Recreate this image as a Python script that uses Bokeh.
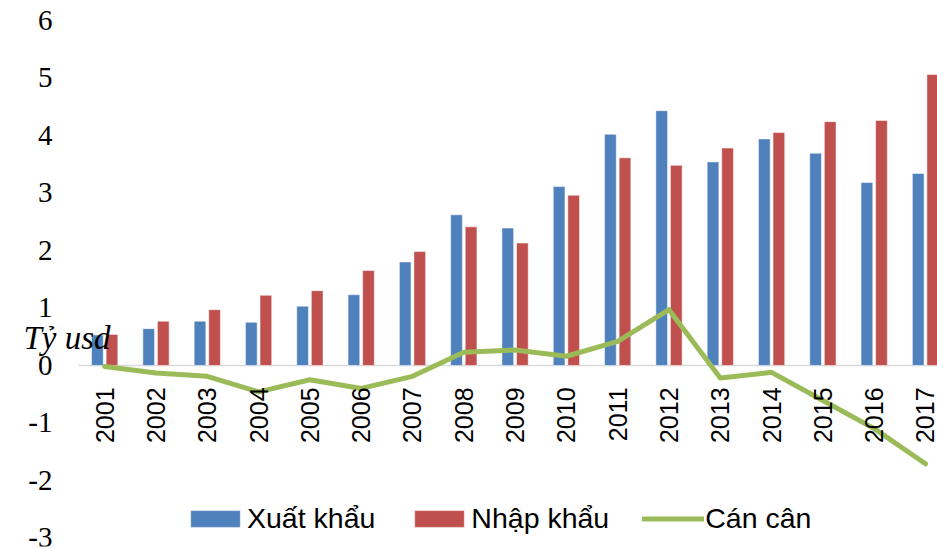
import math
from bokeh.plotting import figure
from bokeh.models import ColumnDataSource, Label, Legend, LegendItem, Range1d
from bokeh.transform import dodge
from bokeh.core.properties import value
from bokeh.embed import file_html
from bokeh.resources import INLINE

# ---- data (billion USD) ----
years = list(range(2001, 2018))
year_labels = [str(y) for y in years]
xuat_khau = [0.53, 0.64, 0.77, 0.75, 1.03, 1.23, 1.80, 2.62, 2.39, 3.11, 4.02, 4.43, 3.54, 3.94, 3.69, 3.18, 3.34]
nhap_khau = [0.54, 0.77, 0.97, 1.22, 1.30, 1.65, 1.98, 2.41, 2.13, 2.96, 3.61, 3.48, 3.78, 4.05, 4.24, 4.26, 5.06]
can_can = [-0.02, -0.13, -0.19, -0.46, -0.25, -0.40, -0.19, 0.23, 0.27, 0.16, 0.42, 0.97, -0.22, -0.12, -0.61, -1.10, -1.71]
y_ticks = [-3, -2, -1, 0, 1, 2, 3, 4, 5, 6]
y_tick_labels = ["-3", "-2", "-1", "0", "1", "2", "3", "4", "5", "6"]

BLUE = "#4F81BD"
RED = "#C0504D"
GREEN = "#9BBB59"

x_range = Range1d(1998.969, 2017.234)
y_range = Range1d(-3.149, 6.19)

src = ColumnDataSource(dict(year=years, label=year_labels, xk=xuat_khau, nk=nhap_khau, cc=can_can,
                            zero=[0] * len(years)))
tick_src = ColumnDataSource(dict(y=y_ticks, label=y_tick_labels, x=[x_range.start] * len(y_ticks)))

p = figure(width=937, height=548, output_backend="svg", toolbar_location=None,
           x_range=x_range, y_range=y_range,
           x_axis_location=None, y_axis_location=None,
           min_border_left=0, min_border_right=0, min_border_top=9, min_border_bottom=2,
           outline_line_color=None, background_fill_color="white", border_fill_color="white")

p.xgrid.visible = False
p.ygrid.visible = False

# zero line (category area only)
p.segment(x0=years[0] - 0.51, x1=x_range.end, y0=0, y1=0, line_color="#D9D9D9", line_width=1.5)

r_xk = p.vbar(x=dodge("year", -0.142, range=p.x_range), top="xk", bottom=0, width=0.228,
              source=src, fill_color=BLUE, line_color="white", line_alpha=0.5, line_width=1)
r_nk = p.vbar(x=dodge("year", 0.142, range=p.x_range), top="nk", bottom=0, width=0.228,
              source=src, fill_color=RED, line_color="white", line_alpha=0.5, line_width=1)
r_cc = p.line(x="year", y="cc", source=src, line_color=GREEN, line_width=5,
              line_cap="round", line_join="round")

# year labels hanging below the zero line
p.text(x="year", y="zero", text="label", source=src, angle=math.pi / 2,
       text_align="right", text_baseline="middle", y_offset=22,
       text_font=value("Liberation Sans"), text_font_size="25px", text_color="black")

# value-axis tick labels
p.text(x="x", y="y", text="label", source=tick_src, x_offset=52,
       text_align="right", text_baseline="middle",
       text_font=value("Liberation Serif"), text_font_size="29px", text_color="black")

unit = Label(x=1999.417, y=0.47, text="Tỷ usd", text_font="Liberation Serif",
             text_font_style="italic", text_font_size="33px", text_color="black",
             text_baseline="alphabetic")
p.add_layout(unit)

legend = Legend(items=[LegendItem(label="Xuất khẩu", renderers=[r_xk]),
                       LegendItem(label="Nhập khẩu", renderers=[r_nk]),
                       LegendItem(label="Cán cân", renderers=[r_cc])],
                orientation="horizontal", location=(184, 11),
                glyph_width=62, glyph_height=21, label_standoff=1, spacing=33,
                padding=0, margin=0, border_line_alpha=0, background_fill_alpha=0,
                label_text_font="Liberation Sans", label_text_font_size="28.5px",
                label_text_color="black")
p.add_layout(legend)

open("out.html", "w").write(file_html(p, INLINE))
